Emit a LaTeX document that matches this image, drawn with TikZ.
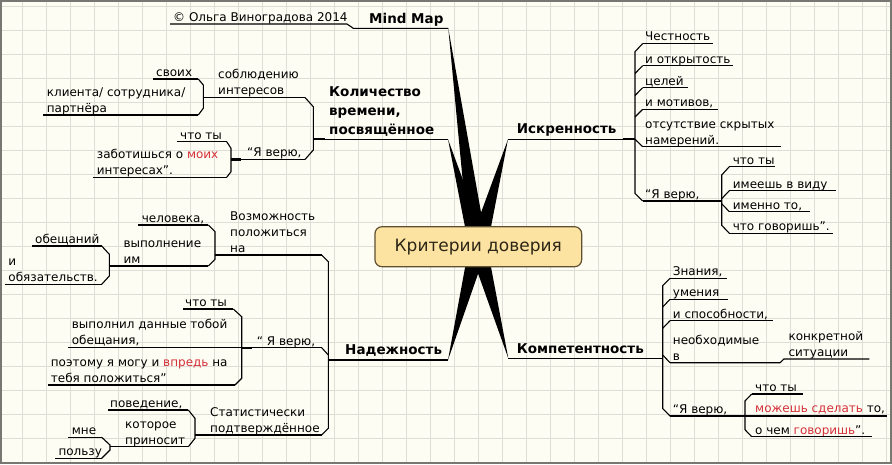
\documentclass[tikz,border=0pt]{standalone}
\usepackage{fontspec}
\setmainfont{DejaVu Sans}
\usetikzlibrary{calc}
\definecolor{bgc}{RGB}{254,253,244}
\definecolor{gridc}{RGB}{222,222,214}
\definecolor{framec}{RGB}{120,120,114}
\definecolor{boxfill}{RGB}{252,227,162}
\definecolor{boxdraw}{RGB}{95,80,50}
\definecolor{boxtext}{RGB}{45,38,22}
\definecolor{redt}{RGB}{212,48,56}
\tikzset{
  txt/.style={anchor=south west, inner sep=0pt, text depth=0pt, align=left, font=\fontsize{12}{16}\selectfont},
  ttl/.style={txt, font=\bfseries\fontsize{13.5}{19}\selectfont},
  ln/.style={line width=1.1pt, line join=miter},
  stub/.style={line width=2.1pt},
  gridline/.style={draw=gridc, line width=0.8pt},
}
\newcommand{\rd}[1]{\textcolor{redt}{#1}}
\begin{document}
\begin{tikzpicture}[x=1pt,y=-1pt]
\useasboundingbox (0,0) rectangle (892,464);
\fill[bgc] (0,0) rectangle (892,464);
\foreach \i in {0,...,36} \draw[gridline] ({22.3+24*\i},0) -- ({22.3+24*\i},464);
\foreach \i in {0,...,19} \draw[gridline] (0,{6+24*\i}) -- (892,{6+24*\i});
\draw[framec, line width=2.4pt] (1.2,1.2) rectangle (890.8,462.8);

% ---------- wedges ----------
\coordinate (C) at (478,246.7);
\coordinate (mmT) at (448.3,28.3);
\coordinate (kolT) at (448,139.3);
\coordinate (iskT) at (508,139.3);
\coordinate (nadT) at (448,360);
\coordinate (komT) at (508.3,358.3);
\foreach \t in {mmT,kolT,iskT,nadT,komT}
  \fill (\t) -- ($(C)!9pt!90:(\t)$) -- ($(C)!9pt!-90:(\t)$) -- cycle;

% ---------- central node ----------
\node[draw=boxdraw, line width=1.2pt, fill=boxfill, rounded corners=7pt, minimum width=206.7pt, minimum height=40pt, inner sep=0pt, text=boxtext, font=\fontsize{17}{20}\selectfont] (c) at (478.3,246.7) {Критерии доверия};

% ---------- Mind Map ----------
\node[ttl] (mm) at (369,23.3) {Mind Map};
\node[txt] (copy) at (173,21.5) {© Ольга Виноградова 2014};
\draw[ln] (170,24) -- (347,24) -- (353.3,28.3) -- (mmT);

% ---------- Количество времени ----------
\node[ttl] (kol) at (329,134.3) {Количество\\времени,\\посвящённое};
\draw[ln] (313.3,139.3) -- (kolT);
\draw[stub] (313.3,139.3) -- (325,139.3);
\draw[ln] (305,97.5) -- (313.3,106.7) -- (313.3,150) -- (305,159.5);
\node[txt] (sobl) at (218,94.8) {соблюдению\\интересов};
\draw[ln] (203.3,97.5) -- (305,97.5);
\draw[ln] (198.3,79) -- (203.3,85) -- (203.3,108.3) -- (198.3,115);
\node[txt] (svoih) at (156,76.5) {своих};
\draw[ln] (153.3,79) -- (198.3,79);
\node[txt] (klient) at (46.7,112.5) {клиента/ сотрудника/\\партнёра};
\draw[ln] (43.3,115) -- (198.3,115);
\node[txt] (kver) at (247,157) {“Я верю,};
\draw[ln] (231,159.5) -- (305,159.5);
\draw[stub] (231,159.5) -- (241,159.5);
\draw[ln] (226.7,141.7) -- (231,148.3) -- (231,171.7) -- (226.7,177.3);
\node[txt] (kchto) at (180,139.2) {что ты};
\draw[ln] (176.7,141.7) -- (226.7,141.7);
\node[txt] (zabot) at (96.7,174.8) {заботишься о \rd{моих}\\интересах”.};
\draw[ln] (93.3,177.3) -- (226.7,177.3);

% ---------- Искренность ----------
\node[ttl] (isk) at (516.7,134) {Искренность};
\draw[ln] (iskT) -- (635,139.3);
\draw[stub] (623,139.3) -- (635,139.3);
\draw[ln] (642.7,43.5) -- (635,51.7) -- (635,193.3) -- (642.7,201);
\draw[ln] (635,73.5) -- (642.7,65.7);
\draw[ln] (635,95.5) -- (642.7,87.7);
\draw[ln] (635,117) -- (642.7,109.3);
\draw[ln] (635,139.3) -- (642.7,146.7);
\node[txt] (i1) at (645,41) {Честность};
\draw[ln] (642.7,43.5) -- (713,43.5);
\node[txt] (i2) at (645,63.2) {и открытость};
\draw[ln] (642.7,65.7) -- (732.7,65.7);
\node[txt] (i3) at (645,85.2) {целей};
\draw[ln] (642.7,87.7) -- (687.7,87.7);
\node[txt] (i4) at (645,106.8) {и мотивов,};
\draw[ln] (642.7,109.3) -- (718.3,109.3);
\node[txt] (i5) at (645,144.2) {отсутствие скрытых\\намерений.};
\draw[ln] (642.7,146.7) -- (781,146.7);
\node[txt] (iver) at (645,198.5) {“Я верю,};
\draw[ln] (642.7,201) -- (721.7,201);
\draw[stub] (711,201) -- (721.7,201);
\draw[ln] (729.3,166.7) -- (721.7,175) -- (721.7,225.3) -- (729.3,233.3);
\draw[ln] (721.7,198.7) -- (729.3,190.7);
\draw[ln] (721.7,203.7) -- (729.3,211.7);
\node[txt] (iv1) at (732.7,164.2) {что ты};
\draw[ln] (729.3,166.7) -- (775,166.7);
\node[txt] (iv2) at (732.7,188.2) {имеешь в виду};
\draw[ln] (729.3,190.7) -- (836,190.7);
\node[txt] (iv3) at (732.7,209.2) {именно то,};
\draw[ln] (729.3,211.7) -- (810,211.7);
\node[txt] (iv4) at (732.7,230.8) {что говоришь”.};
\draw[ln] (729.3,233.3) -- (833.3,233.3);

% ---------- Компетентность ----------
\node[ttl] (kom) at (516.7,353.3) {Компетентность};
\draw[ln] (komT) -- (662.7,358.3);
\draw[ln] (670,278.3) -- (662.7,285.7) -- (662.7,408.5) -- (670,416);
\draw[ln] (662.7,307) -- (670,299.3);
\draw[ln] (662.7,328.3) -- (670,320.7);
\draw[ln] (662.7,355) -- (670,362.7);
\node[txt] (k1) at (672.7,275.8) {Знания,};
\draw[ln] (670,278.3) -- (726.7,278.3);
\node[txt] (k2) at (672.7,296.8) {умения};
\draw[ln] (670,299.3) -- (727.7,299.3);
\node[txt] (k3) at (672.7,318.2) {и способности,};
\draw[ln] (670,320.7) -- (773.3,320.7);
\node[txt] (k4) at (672.7,360.2) {необходимые\\в};
\node[txt] (k5) at (788.3,356.5) {конкретной\\ситуации};
\draw[ln] (670,362.7) -- (780,362.7) -- (784,359) -- (869.3,359);
\node[txt] (kver2) at (672.7,413.5) {“Я верю,};
\draw[ln] (670,416) -- (745,416);
\draw[stub] (734,416) -- (745,416);
\draw[ln] (751.7,394) -- (745,401) -- (745,429.7) -- (751.7,436.7);
\node[txt] (kv1) at (755,391.5) {что ты};
\draw[ln] (751.7,394) -- (802.7,394);
\node[txt] (kv2) at (755,413) {\rd{можешь сделать} то,};
\draw[ln] (745,416) -- (886.7,416);
\node[txt] (kv3) at (755,434.2) {о чем \rd{говоришь}”.};
\draw[ln] (751.7,436.7) -- (871.7,436.7);

% ---------- Надежность ----------
\node[ttl] (nad) at (345,355) {Надежность};
\draw[ln] (328.3,360) -- (nadT);
\draw[stub] (328.3,360) -- (340,360);
\draw[ln] (321.7,255) -- (328.3,261.7) -- (328.3,428.3) -- (321.7,435);
\draw[ln] (321.7,347.7) -- (328.3,355);
% Возможность
\node[txt] (voz) at (230,252.5) {Возможность\\положиться\\на};
\draw[ln] (215,255) -- (321.7,255);
\draw[stub] (215,255) -- (225,255);
\draw[ln] (208.3,225) -- (215,231.7) -- (215,259.3) -- (208.3,266);
\node[txt] (chel) at (141.7,222.5) {человека,};
\draw[ln] (138.3,225) -- (208.3,225);
\node[txt] (vyp) at (123.3,263.5) {выполнение\\им};
\draw[ln] (109.3,266) -- (208.3,266);
\draw[stub] (109.3,266) -- (119,266);
\draw[ln] (101.7,246) -- (109.3,254.3) -- (109.3,276) -- (101.7,284.3);
\node[txt] (obesh) at (35,243.5) {обещаний};
\draw[ln] (31.7,246) -- (101.7,246);
\node[txt] (obyaz) at (8.3,281.8) {и\\обязательств.};
\draw[ln] (5,284.3) -- (101.7,284.3);
% Я верю
\node[txt] (nver) at (256.7,345.2) {“ Я верю,};
\draw[ln] (241.7,347.7) -- (321.7,347.7);
\draw[stub] (241.7,347.7) -- (252,347.7);
\draw[ln] (233.3,309) -- (241.7,316.7) -- (241.7,378.3) -- (235,385);
\node[txt] (nv1) at (185,306.5) {что ты};
\draw[ln] (183.3,309) -- (233.3,309);
\node[txt] (nv2) at (71.7,345) {выполнил данные тобой\\обещания,};
\draw[ln] (68.3,347.7) -- (241.7,347.7);
\node[txt] (nv3) at (50.7,382.5) {поэтому я могу и \rd{впредь} на\\тебя положиться”};
\draw[ln] (48.3,385) -- (235,385);
% Статистически
\node[txt] (stat) at (210,432.5) {Статистически\\подтверждённое};
\draw[ln] (195,435) -- (321.7,435);
\draw[stub] (195,435) -- (205,435);
\draw[ln] (188.3,410) -- (195,418.3) -- (195,438.3) -- (188.3,446.7);
\node[txt] (poved) at (110,407.5) {поведение,};
\draw[ln] (108.3,410) -- (188.3,410);
\node[txt] (kotor) at (125,444.2) {которое\\приносит};
\draw[ln] (110,446.7) -- (188.3,446.7);
\draw[ln] (101.7,437.3) -- (110,445) -- (110,450) -- (101.7,458.3);
\node[txt] (mne) at (71.7,434.8) {мне};
\draw[ln] (68.3,437.3) -- (101.7,437.3);
\node[txt] (polz) at (58.3,455.8) {пользу};
\draw[ln] (55,458.3) -- (101.7,458.3);
\end{tikzpicture}
\end{document}
